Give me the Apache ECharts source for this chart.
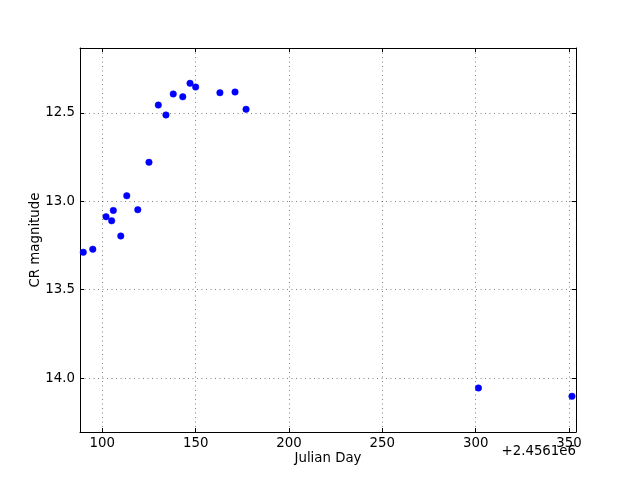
<!DOCTYPE html>
<html>
<head>
<meta charset="utf-8">
<script src="https://cdn.jsdelivr.net/npm/echarts@6/dist/echarts.min.js"></script>
<style>html,body{margin:0;padding:0;background:#fff}#c{width:640px;height:480px}</style>
</head>
<body>
<div id="c"></div>
<script>
// Julian Day offsets (JD - 2456100)
const julianDay = [89.8, 94.9, 102.0, 105.0, 105.9, 109.9, 113.1, 119.0, 125.0, 130.0, 134.1, 138.0, 143.1, 147.0, 150.0, 163.0, 171.1, 177.0, 301.5, 351.6];
const crMag = [13.288, 13.271, 13.087, 13.110, 13.051, 13.196, 12.968, 13.047, 12.779, 12.455, 12.511, 12.392, 12.408, 12.332, 12.353, 12.385, 12.381, 12.479, 14.056, 14.103];
const xTicks = [100, 150, 200, 250, 300, 350];
const yTicks = [12.5, 13.0, 13.5, 14.0];
const xOffsetText = '+2.4561e6';

const FONT = 'DejaVu Sans';
const FS = 13.33;
const points = julianDay.map((x, i) => [x, crMag[i]]);

const chart = echarts.init(document.getElementById('c'), null, {renderer: 'canvas'});
const xMin = 88.05, xMax = 353.75, yMin = 12.132, yMax = 14.305;
const gridLine = {show: true, lineStyle: {color: '#000', width: 0.5, type: [1, 3.5]}};
chart.setOption({
  animation: false,
  backgroundColor: '#fff',
  grid: {left: 80, right: 64, top: 48, bottom: 48, show: false},
  xAxis: [{
    type: 'value', position: 'bottom', min: xMin, max: xMax,
    axisLine: {show: true, onZero: false, lineStyle: {color: '#000', width: 1}},
    axisTick: {show: true, inside: true, length: 4, customValues: xTicks, lineStyle: {color: '#000'}},
    axisLabel: {customValues: xTicks, color: '#000', fontSize: FS, fontFamily: FONT, margin: 5},
    splitLine: gridLine,
    name: 'Julian Day', nameLocation: 'middle', nameGap: 20, nameMoveOverlap: false,
    nameTextStyle: {color: '#000', fontSize: FS, fontFamily: FONT}
  }, {
    type: 'value', position: 'top', min: xMin, max: xMax,
    axisLine: {show: true, onZero: false, lineStyle: {color: '#000', width: 1}},
    axisTick: {show: true, inside: true, length: 4, customValues: xTicks, lineStyle: {color: '#000'}},
    axisLabel: {show: false}, splitLine: {show: false}
  }],
  yAxis: [{
    type: 'value', position: 'left', inverse: true, min: yMin, max: yMax,
    axisLine: {show: true, onZero: false, lineStyle: {color: '#000', width: 1}},
    axisTick: {show: true, inside: true, length: 4, customValues: yTicks, lineStyle: {color: '#000'}},
    axisLabel: {customValues: yTicks, color: '#000', fontSize: FS, fontFamily: FONT, margin: 5,
      formatter: v => Number(v).toFixed(1)},
    splitLine: gridLine,
    name: 'CR magnitude', nameLocation: 'middle', nameGap: 38, nameRotate: 90, nameMoveOverlap: false,
    nameTextStyle: {color: '#000', fontSize: FS, fontFamily: FONT}
  }, {
    type: 'value', position: 'right', inverse: true, min: yMin, max: yMax,
    axisLine: {show: true, onZero: false, lineStyle: {color: '#000', width: 1}},
    axisTick: {show: true, inside: true, length: 4, customValues: yTicks, lineStyle: {color: '#000'}},
    axisLabel: {show: false}, splitLine: {show: false}
  }],
  graphic: [{
    type: 'text', right: 64, top: 445,
    style: {text: xOffsetText, fill: '#000', font: FS + 'px "' + FONT + '"'}
  }],
  series: [{
    type: 'scatter', xAxisIndex: 0, yAxisIndex: 0, data: points,
    symbol: 'circle', symbolSize: 6.5,
    itemStyle: {color: '#0000ff', opacity: 1, borderColor: '#0000ff', borderWidth: 0.5}
  }]
});
</script>
</body>
</html>
